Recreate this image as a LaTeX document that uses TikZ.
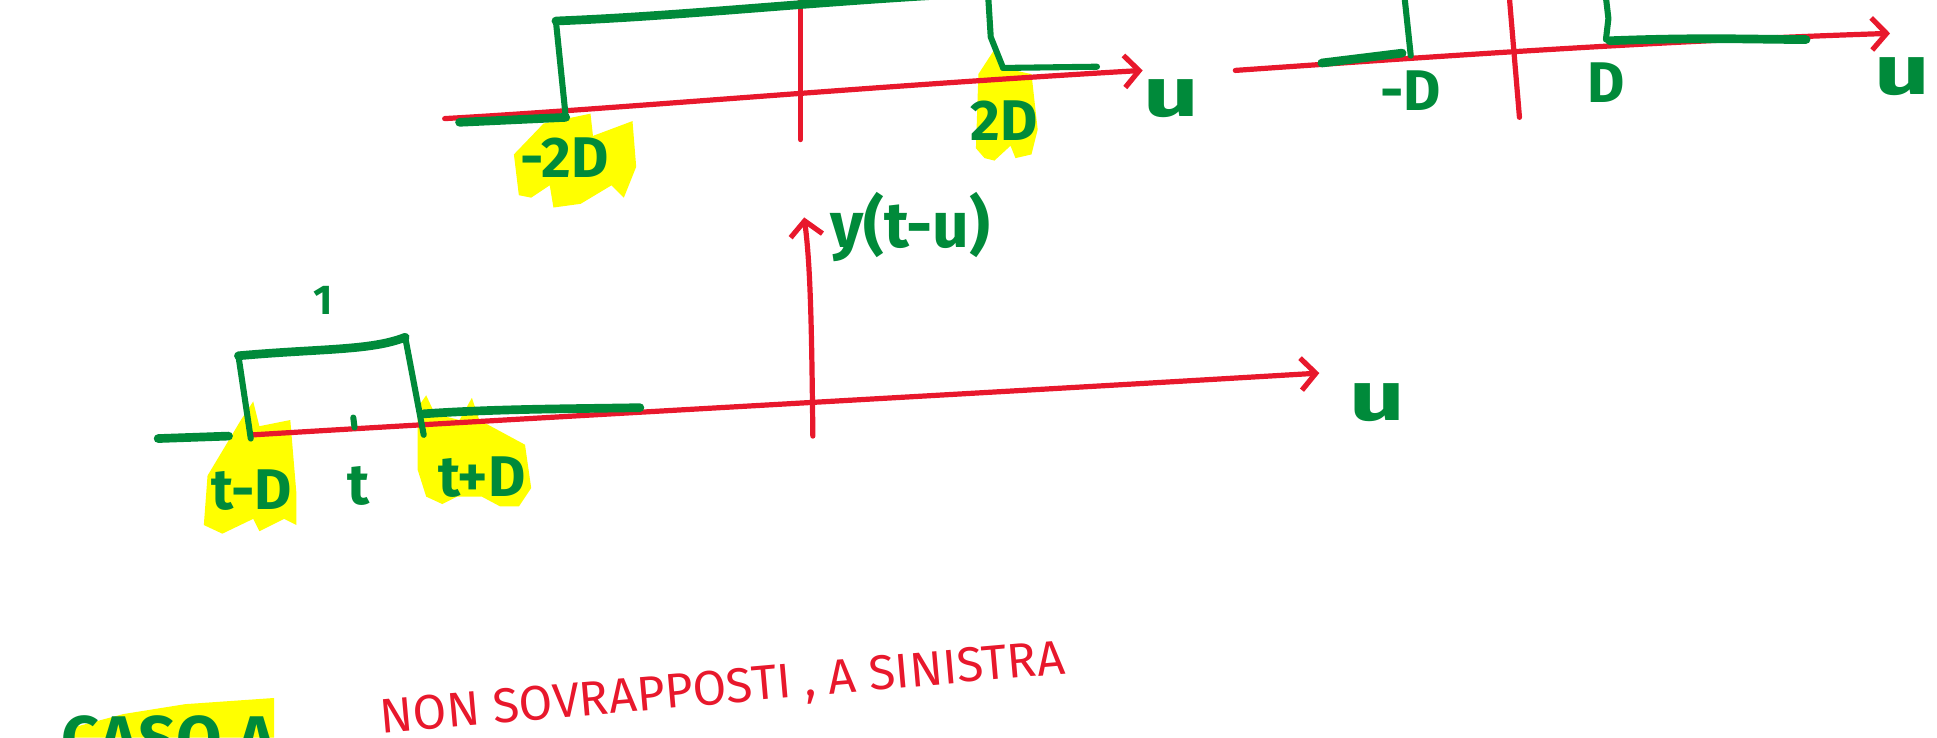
\documentclass[tikz,border=0pt]{standalone}
\usepackage{fontspec}
\setmainfont{Fira Sans}
\usetikzlibrary{arrows.meta}
\definecolor{inkred}{RGB}{232,24,44}
\definecolor{inkgreen}{RGB}{0,138,58}
\definecolor{hl}{RGB}{255,255,0}
\begin{document}
\begin{tikzpicture}[x=0.05cm,y=-0.05cm, line cap=round, line join=round,
 axis/.style={draw=inkred, line width=6pt},
 axisarrow/.style={axis, -{Straight Barb[length=0.6cm,width=1.3cm,line width=6pt]}},
 gthick/.style={draw=inkgreen,line width=10pt},
 gthin/.style={draw=inkgreen,line width=7pt},
 lbl/.style={text=inkgreen, inner sep=0pt, font=\bfseries\fontsize{66}{70}\selectfont},
 lblbig/.style={lbl, font=\bfseries\fontsize{80}{84}\selectfont, xscale=1.4},
 hlfill/.style={fill=hl, draw=none}]
\useasboundingbox (0,0) rectangle (1568,597);
\clip (0,0) rectangle (1568,597);

% ---------- yellow highlights ----------
\path[hlfill] (416,125) -- (440,100) -- (478,92) -- (480,110) -- (512,98) -- (515,135)
  -- (505,160) -- (495,150) -- (470,165) -- (448,168) -- (445,150) -- (430,160) -- (420,158) -- cycle;
\path[hlfill] (792,60) -- (805,40) -- (812,55) -- (835,60) -- (840,105) -- (835,125)
  -- (822,128) -- (818,118) -- (805,130) -- (797,128) -- (790,120) -- cycle;
\path[hlfill] (168,385) -- (195,340) -- (205,325) -- (210,345) -- (235,340) -- (240,400)
  -- (240,425) -- (230,420) -- (210,430) -- (205,420) -- (180,432) -- (165,425) -- cycle;
\path[hlfill] (338,330) -- (345,320) -- (352,335) -- (372,340) -- (382,322) -- (388,340)
  -- (425,360) -- (430,395) -- (420,410) -- (405,410) -- (390,402) -- (370,402) -- (358,408)
  -- (345,402) -- (338,380) -- cycle;
\path[hlfill] (55,590) -- (100,578) -- (150,570) -- (222,565) -- (222,597) -- (55,597) -- cycle;

% ---------- top-left graph ----------
\coordinate (tlA) at (360,96);
\coordinate (tlB) at (925,57);
\draw[axisarrow] (tlA) .. controls (500,88) and (700,70) .. (tlB);
\coordinate (tlV1) at (648,0);
\coordinate (tlV2) at (648,113);
\draw[axis] (tlV1) -- (tlV2);
\draw[gthick] (372,99) -- (458,95);
\draw[gthin] (458,95) -- (450,17);
\draw[gthick] (450,17) .. controls (550,13) and (640,3) .. (760,-4);
\draw[gthin] (800,-2) -- (802,30) -- (812,55);
\draw[gthin] (812,55) -- (888,54);
\node[lbl] (m2D) at (457,128) {-2D};
\node[lbl] (p2D) at (813,98) {2D};
\node[lblbig] (u1) at (948,80) {u};

% ---------- top-right graph ----------
\coordinate (trA) at (1000,57);
\coordinate (trB) at (1530,27);
\draw[axisarrow] (trA) .. controls (1200,43) and (1350,33) .. (trB);
\draw[axis] (1222,0) -- (1230,95);
\draw[gthick] (1070,51) -- (1135,43);
\draw[gthin] (1137,-2) -- (1142,45);
\draw[gthin] (1300,-2) -- (1302,15) -- (1300,32);
\draw[gthick] (1303,33) .. controls (1380,30) and (1420,32) .. (1462,32);
\node[lbl] (mD) at (1142,73) {-D};
\node[lbl] (pD) at (1300,67) {D};
\node[lblbig] (u2) at (1540,62) {u};

% ---------- middle graph ----------
\coordinate (mA) at (205,352);
\coordinate (mB) at (1068,302);
\draw[axisarrow] (mA) .. controls (400,340) and (800,318) .. (mB);
\coordinate (mV1) at (658,353);
\coordinate (mV2) at (651,176);
\draw[axisarrow] (mV1) .. controls (657,260) and (656,215) .. (mV2);
\draw[gthick] (128,355) -- (185,353);
\draw[gthin] (203,355) -- (193,288);
\draw[gthick] (193,288) .. controls (260,282) and (300,284) .. (328,273);
\draw[gthin] (328,273) -- (343,352);
\draw[gthick] (343,335) .. controls (400,331) and (460,331) .. (518,330);
\draw[gthin] (286,338) -- (287,346);
\node[lbl, font=\bfseries\fontsize{48}{52}\selectfont] (one) at (262,243) {1};
\node[lbl] (tmD) at (204,397) {t-D};
\node[lbl] (tt) at (290,393) {t};
\node[lbl] (tpD) at (390,386) {t+D};
\node[lbl, anchor=west, font=\bfseries\fontsize{74}{78}\selectfont] (ytu) at (672,184) {y(t-u)};
\node[lblbig] (u3) at (1115,326) {u};

% ---------- bottom text ----------
\node[lbl, font=\bfseries\fontsize{76}{80}\selectfont, anchor=south west] (caso) at (50,618) {CASO A};
\node[inner sep=0pt, text=inkred, rotate=5, font=\fontsize{56}{60}\selectfont] (nonsov) at (585,559) {NON SOVRAPPOSTI , A SINISTRA};
\end{tikzpicture}
\end{document}
